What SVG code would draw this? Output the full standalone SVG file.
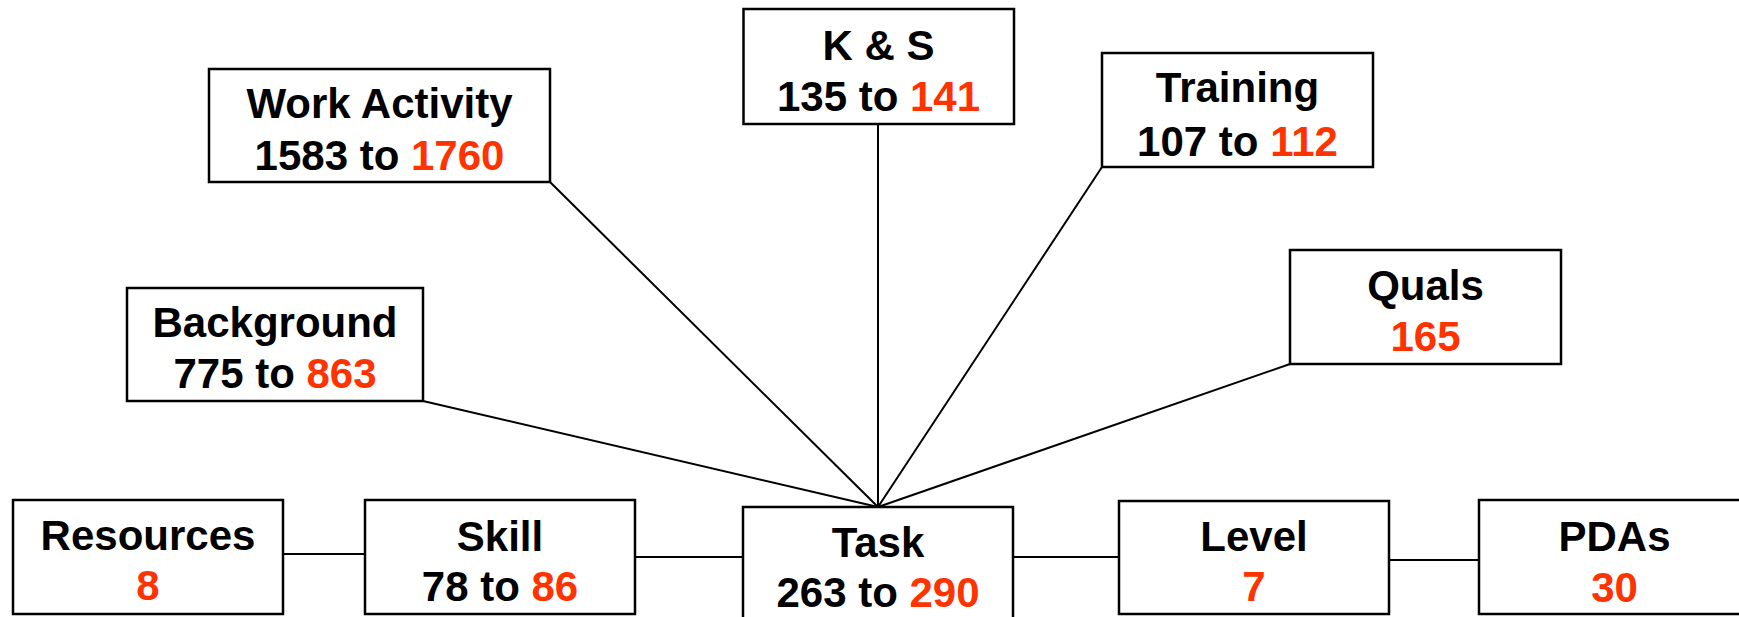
<svg xmlns="http://www.w3.org/2000/svg" width="1739" height="617" viewBox="0 0 1739 617">
<style>
.box{fill:#fff;stroke:#000;stroke-width:2.5}
.t{font-family:"Liberation Sans",Arial,sans-serif;font-weight:bold;font-size:42px;fill:#000;text-anchor:middle}
.r{fill:#ff3300}
.c{stroke:#000;stroke-width:2;fill:none}
</style>
<rect width="1739" height="617" fill="#fff"/>
<g id="connectors">
<line class="c" x1="550" y1="182" x2="878" y2="507"/>
<line class="c" x1="878" y1="124" x2="878" y2="507"/>
<line class="c" x1="1102" y1="167" x2="878" y2="507"/>
<line class="c" x1="1290" y1="364" x2="878" y2="507"/>
<line class="c" x1="423" y1="401" x2="878" y2="507"/>
<line class="c" x1="283" y1="554" x2="365" y2="554"/>
<line class="c" x1="635" y1="557" x2="743" y2="557"/>
<line class="c" x1="1013" y1="557" x2="1119" y2="557"/>
<line class="c" x1="1389" y1="560" x2="1479" y2="560"/>
</g>
<g id="work-activity">
<rect class="box" x="209" y="69" width="341" height="113"/>
<text class="t" x="379.5" y="118">Work Activity</text>
<text class="t" x="379.5" y="170">1583 to <tspan class="r">1760</tspan></text>
</g>
<g id="ks">
<rect class="box" x="743.5" y="9" width="270.5" height="115"/>
<text class="t" x="878.5" y="60">K &amp; S</text>
<text class="t" x="878.5" y="111">135 to <tspan class="r">141</tspan></text>
</g>
<g id="training">
<rect class="box" x="1102" y="53" width="271" height="114"/>
<text class="t" x="1237.5" y="102">Training</text>
<text class="t" x="1237.5" y="156">107 to <tspan class="r">112</tspan></text>
</g>
<g id="quals">
<rect class="box" x="1290" y="250" width="271" height="114"/>
<text class="t" x="1425.5" y="300">Quals</text>
<text class="t r" x="1425.5" y="351">165</text>
</g>
<g id="background">
<rect class="box" x="127" y="288" width="296" height="113"/>
<text class="t" x="275" y="337">Background</text>
<text class="t" x="275" y="388">775 to <tspan class="r">863</tspan></text>
</g>
<g id="resources">
<rect class="box" x="13" y="500" width="270" height="114"/>
<text class="t" x="148" y="550">Resources</text>
<text class="t r" x="148" y="600">8</text>
</g>
<g id="skill">
<rect class="box" x="365" y="500" width="270" height="114"/>
<text class="t" x="500" y="551">Skill</text>
<text class="t" x="500" y="601">78 to <tspan class="r">86</tspan></text>
</g>
<g id="task">
<rect class="box" x="743" y="507" width="270" height="120"/>
<text class="t" x="878" y="557">Task</text>
<text class="t" x="878" y="607">263 to <tspan class="r">290</tspan></text>
</g>
<g id="level">
<rect class="box" x="1119" y="501" width="270" height="113"/>
<text class="t" x="1254" y="551">Level</text>
<text class="t r" x="1254" y="601">7</text>
</g>
<g id="pdas">
<rect class="box" x="1479" y="500" width="271" height="114"/>
<text class="t" x="1614.5" y="551">PDAs</text>
<text class="t r" x="1614.5" y="602">30</text>
</g>
</svg>
